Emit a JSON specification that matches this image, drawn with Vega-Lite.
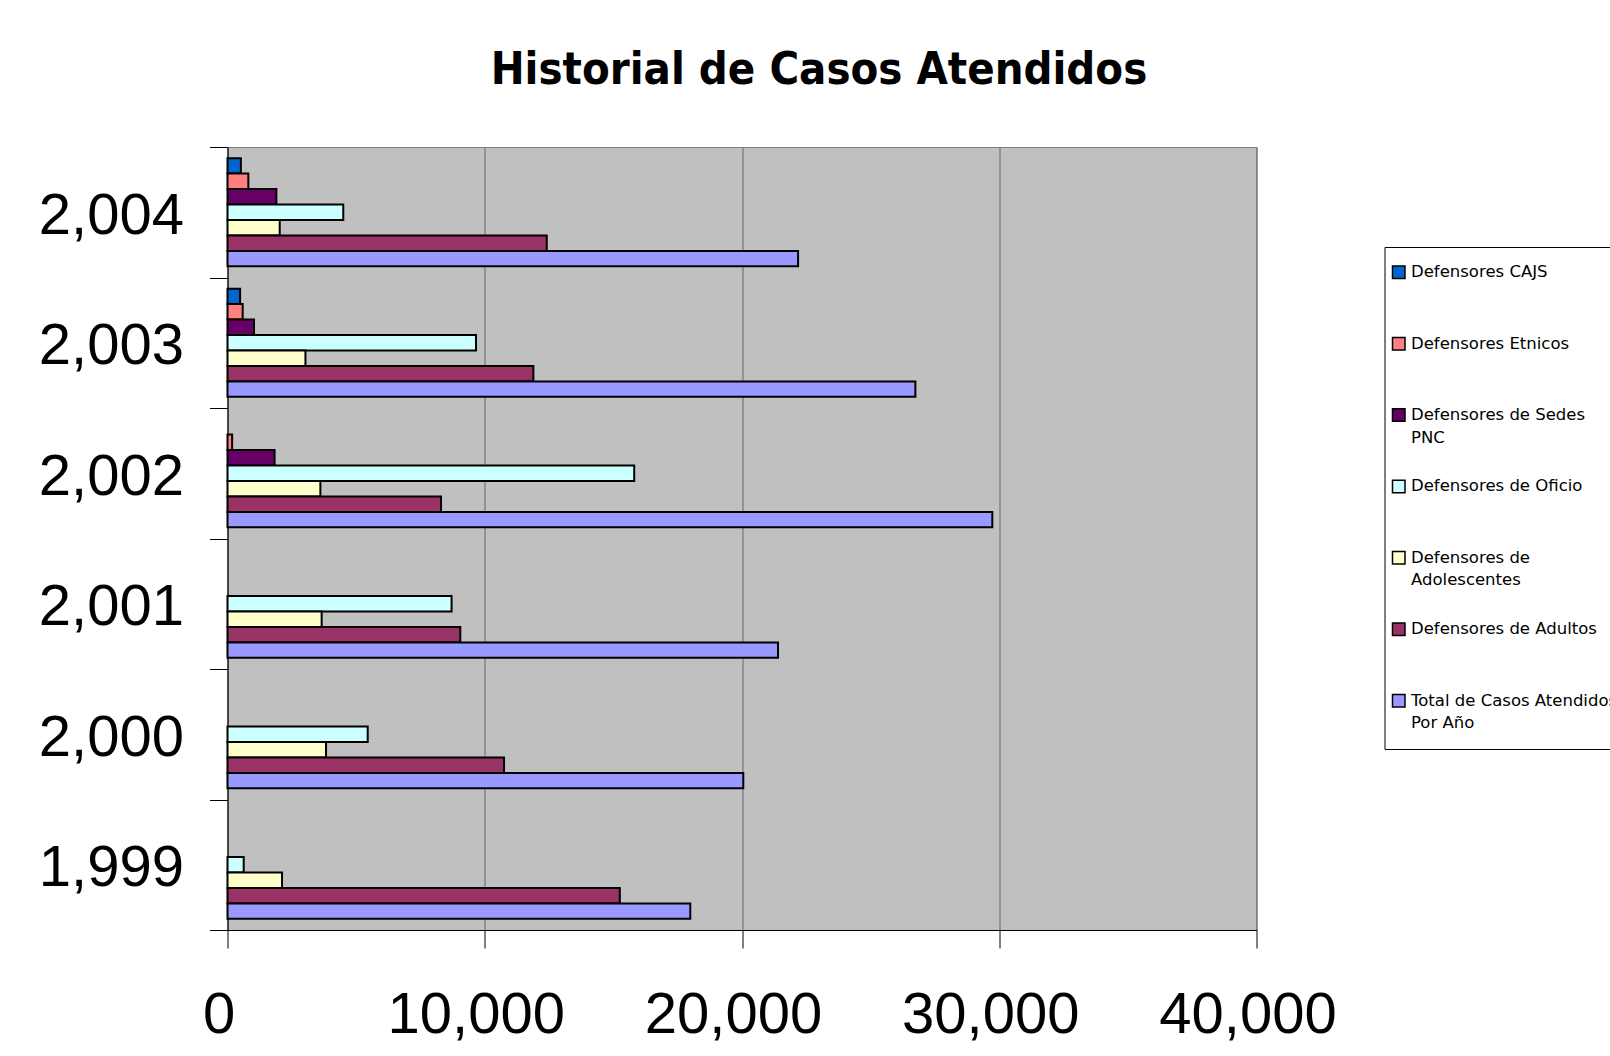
{
  "$schema": "https://vega.github.io/schema/vega-lite/v6.json",
  "autosize": {"type": "none"},
  "padding": {"left": 227.5, "top": 147, "right": 353.5, "bottom": 126},
  "width": 1029,
  "height": 783,
  "background": "white",
  "title": {
    "text": "Historial de Casos Atendidos",
    "font": "'DejaVu Sans Condensed', 'DejaVu Sans'",
    "fontSize": 45,
    "fontWeight": "bold",
    "color": "black",
    "anchor": "middle",
    "frame": "group",
    "dx": 77,
    "baseline": "alphabetic",
    "offset": -11
  },
  "data": {
    "values": [
      {"anio": 2004, "serie": "Defensores CAJS", "casos": 520},
      {"anio": 2004, "serie": "Defensores Etnicos", "casos": 810},
      {"anio": 2004, "serie": "Defensores de Sedes PNC", "casos": 1900},
      {"anio": 2004, "serie": "Defensores de Oficio", "casos": 4500},
      {"anio": 2004, "serie": "Defensores de Adolescentes", "casos": 2030},
      {"anio": 2004, "serie": "Defensores de Adultos", "casos": 12410},
      {"anio": 2004, "serie": "Total de Casos Atendidos Por Año", "casos": 22180},
      {"anio": 2003, "serie": "Defensores CAJS", "casos": 490},
      {"anio": 2003, "serie": "Defensores Etnicos", "casos": 590},
      {"anio": 2003, "serie": "Defensores de Sedes PNC", "casos": 1030},
      {"anio": 2003, "serie": "Defensores de Oficio", "casos": 9660},
      {"anio": 2003, "serie": "Defensores de Adolescentes", "casos": 3030},
      {"anio": 2003, "serie": "Defensores de Adultos", "casos": 11890},
      {"anio": 2003, "serie": "Total de Casos Atendidos Por Año", "casos": 26740},
      {"anio": 2002, "serie": "Defensores Etnicos", "casos": 180},
      {"anio": 2002, "serie": "Defensores de Sedes PNC", "casos": 1830},
      {"anio": 2002, "serie": "Defensores de Oficio", "casos": 15810},
      {"anio": 2002, "serie": "Defensores de Adolescentes", "casos": 3610},
      {"anio": 2002, "serie": "Defensores de Adultos", "casos": 8300},
      {"anio": 2002, "serie": "Total de Casos Atendidos Por Año", "casos": 29730},
      {"anio": 2001, "serie": "Defensores de Oficio", "casos": 8710},
      {"anio": 2001, "serie": "Defensores de Adolescentes", "casos": 3660},
      {"anio": 2001, "serie": "Defensores de Adultos", "casos": 9050},
      {"anio": 2001, "serie": "Total de Casos Atendidos Por Año", "casos": 21400},
      {"anio": 2000, "serie": "Defensores de Oficio", "casos": 5450},
      {"anio": 2000, "serie": "Defensores de Adolescentes", "casos": 3830},
      {"anio": 2000, "serie": "Defensores de Adultos", "casos": 10750},
      {"anio": 2000, "serie": "Total de Casos Atendidos Por Año", "casos": 20050},
      {"anio": 1999, "serie": "Defensores de Oficio", "casos": 630},
      {"anio": 1999, "serie": "Defensores de Adolescentes", "casos": 2120},
      {"anio": 1999, "serie": "Defensores de Adultos", "casos": 15250},
      {"anio": 1999, "serie": "Total de Casos Atendidos Por Año", "casos": 17990}
    ]
  },
  "mark": {"type": "bar", "stroke": "black", "strokeWidth": 2},
  "encoding": {
    "y": {
      "field": "anio",
      "type": "ordinal",
      "sort": "descending",
      "scale": {"paddingInner": 0, "paddingOuter": 0},
      "axis": {
        "title": null,
        "labelExpr": "isNumber(datum.value) ? format(datum.value, ',') : ''",
        "tickBand": "extent",
        "tickSize": 18,
        "tickColor": "black",
        "domainColor": "black",
        "labelPadding": 26,
        "labelOffset": 4,
        "labelFont": "Liberation Sans",
        "labelFontSize": 58,
        "labelColor": "black",
        "grid": false
      }
    },
    "yOffset": {
      "field": "serie",
      "type": "nominal",
      "sort": [
        "Defensores CAJS",
        "Defensores Etnicos",
        "Defensores de Sedes PNC",
        "Defensores de Oficio",
        "Defensores de Adolescentes",
        "Defensores de Adultos",
        "Total de Casos Atendidos Por Año"
      ],
      "scale": {
        "domain": [
          "Defensores CAJS",
          "Defensores Etnicos",
          "Defensores de Sedes PNC",
          "Defensores de Oficio",
          "Defensores de Adolescentes",
          "Defensores de Adultos",
          "Total de Casos Atendidos Por Año"
        ],
        "paddingInner": 0,
        "paddingOuter": 0.72
      }
    },
    "x": {
      "field": "casos",
      "type": "quantitative",
      "scale": {"domain": [0, 40000], "nice": false},
      "axis": {
        "title": null,
        "values": [0, 10000, 20000, 30000, 40000],
        "format": ",d",
        "tickSize": 18,
        "tickColor": "black",
        "domainColor": "black",
        "labelPadding": 38,
        "labelOffset": -9,
        "labelFont": "Liberation Sans",
        "labelFontSize": 58,
        "labelColor": "black",
        "labelOverlap": false,
        "labelFlush": false,
        "grid": true,
        "gridColor": "#666666",
        "gridWidth": 1
      }
    },
    "color": {
      "field": "serie",
      "type": "nominal",
      "scale": {
        "domain": [
          "Defensores CAJS",
          "Defensores Etnicos",
          "Defensores de Sedes PNC",
          "Defensores de Oficio",
          "Defensores de Adolescentes",
          "Defensores de Adultos",
          "Total de Casos Atendidos Por Año"
        ],
        "range": ["#0066CC", "#FF8080", "#660066", "#CCFFFF", "#FFFFCC", "#993366", "#9999FF"]
      },
      "legend": {
        "orient": "none",
        "legendX": 1157,
        "legendY": 100,
        "title": null,
        "padding": 17,
        "symbolOffset": -11,
        "labelOffset": 4,
        "strokeColor": "black",
        "fillColor": "white",
        "symbolType": "square",
        "symbolSize": 156,
        "symbolStrokeColor": "black",
        "symbolStrokeWidth": 1.5,
        "symbolOpacity": 1,
        "labelFont": "DejaVu Sans",
        "labelFontSize": 16.5,
        "labelColor": "black",
        "labelLimit": 400,
        "rowPadding": 30.4,
        "gridAlign": "all",
        "labelExpr": "datum.label == 'Defensores de Sedes PNC' ? ['Defensores de Sedes', 'PNC'] : datum.label == 'Defensores de Adolescentes' ? ['Defensores de', 'Adolescentes'] : datum.label == 'Total de Casos Atendidos Por Año' ? ['Total de Casos Atendidos', 'Por Año'] : datum.label",
        "encode": {"labels": {"update": {"lineHeight": {"value": 22.6}}}}
      }
    }
  },
  "config": {
    "view": {"fill": "#C0C0C0", "stroke": "#808080", "strokeWidth": 1}
  }
}
